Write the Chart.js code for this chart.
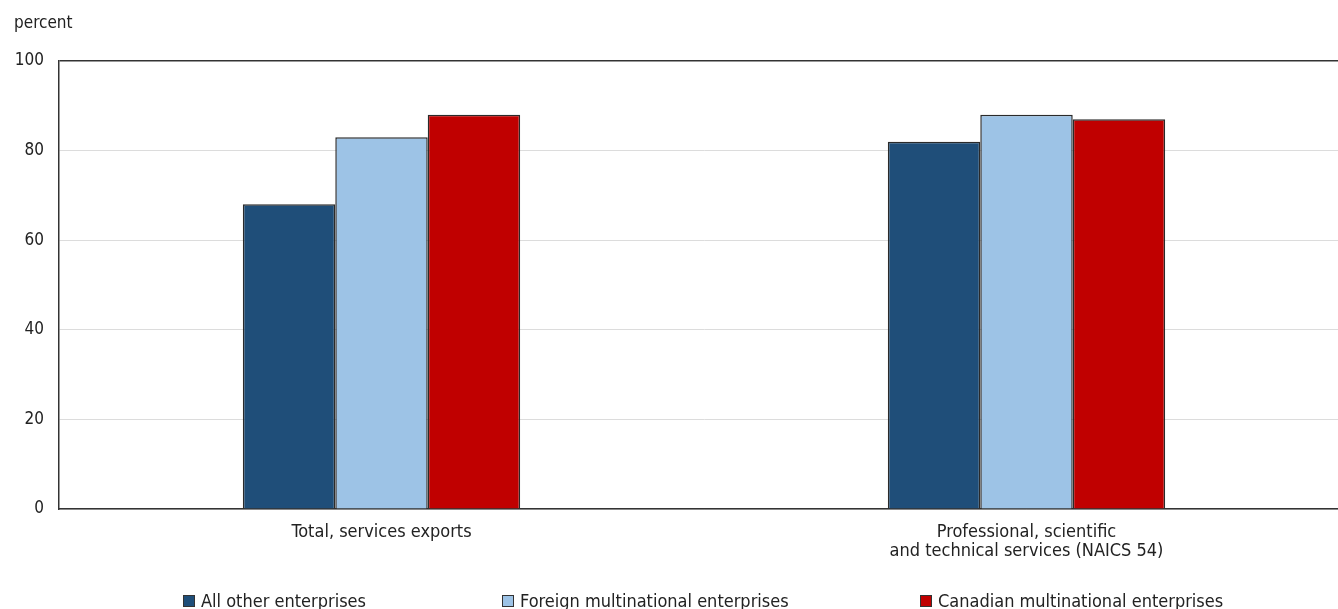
<!DOCTYPE html>
<html>
<head>
<meta charset="utf-8">
<script src="https://cdn.jsdelivr.net/npm/chart.js@4"></script>
<style>
html,body{margin:0;padding:0;background:#fff;overflow:hidden;}
#wrap{position:relative;width:1349px;height:609px;}
</style>
</head>
<body>
<div id="wrap"><canvas id="c" width="1349" height="609"></canvas></div>
<script>
const categories = [["Total, services exports"], ["Professional, scientific", "and technical services (NAICS 54)"]];
const seriesNames = ["All other enterprises", "Foreign multinational enterprises", "Canadian multinational enterprises"];
const allOther = [68, 82];
const foreignMNE = [83, 88];
const canadianMNE = [88, 87];
const yTicks = [0, 20, 40, 60, 80, 100];
const colors = ["#1f4e79", "#9dc3e6", "#c00000"];

const FONT = "'Liberation Sans Narrow', 'DejaVu Sans Condensed', 'Arial Narrow', sans-serif";

const legendX = [183, 502, 920];
const decor = {
  id: 'decor',
  afterDraw(chart) {
    const ctx = chart.ctx;
    ctx.save();
    ctx.fillStyle = '#222';
    ctx.font = '17px ' + FONT;
    ctx.textBaseline = 'alphabetic';
    ctx.textAlign = 'left';
    ctx.fillText('percent', 14, 28);
    ctx.font = '18px ' + FONT;
    chart.data.datasets.forEach((ds, i) => {
      const x = legendX[i];
      ctx.fillStyle = ds.backgroundColor;
      ctx.fillRect(x, 595, 12, 12);
      ctx.strokeStyle = '#333';
      ctx.lineWidth = 1;
      ctx.strokeRect(x + 0.5, 595.5, 11, 11);
      ctx.fillStyle = '#222';
      ctx.fillText(ds.label, x + 18, 607);
    });
    ctx.restore();
  }
};

new Chart(document.getElementById('c'), {
  type: 'bar',
  data: {
    labels: categories,
    datasets: [
      { label: seriesNames[0], data: allOther, backgroundColor: colors[0] },
      { label: seriesNames[1], data: foreignMNE, backgroundColor: colors[1] },
      { label: seriesNames[2], data: canadianMNE, backgroundColor: colors[2] }
    ].map(d => Object.assign(d, { borderColor: '#2a2a2a', borderWidth: 1.5, borderSkipped: 'bottom' }))
  },
  options: {
    responsive: false,
    animation: false,
    devicePixelRatio: 1,
    layout: { padding: { top: 61, right: 0, left: 0, bottom: 0 } },
    datasets: { bar: { categoryPercentage: 0.43, barPercentage: 1 } },
    plugins: { legend: { display: false }, tooltip: { enabled: false } },
    scales: {
      x: {
        grid: { display: false, drawTicks: false },
        border: { display: true, color: '#333', width: 1.5 },
        ticks: { color: '#222', font: { family: FONT, size: 18, lineHeight: 1.1 }, padding: 13, maxRotation: 0, autoSkip: false },
        afterFit(s) { s.height = 100; }
      },
      y: {
        min: 0, max: 100,
        afterBuildTicks(s) { s.ticks = yTicks.map(v => ({ value: v })); },
        grid: {
          drawTicks: false,
          color: c => (c.tick && c.tick.value === 100) ? '#333' : '#dcdcdc',
          lineWidth: c => (c.tick && c.tick.value === 100) ? 1.5 : 1
        },
        border: { display: true, color: '#333', width: 1.5 },
        ticks: { color: '#222', font: { family: FONT, size: 17 }, padding: 15 },
        afterFit(s) { s.width = 59; }
      }
    }
  },
  plugins: [decor]
});
</script>
</body>
</html>
